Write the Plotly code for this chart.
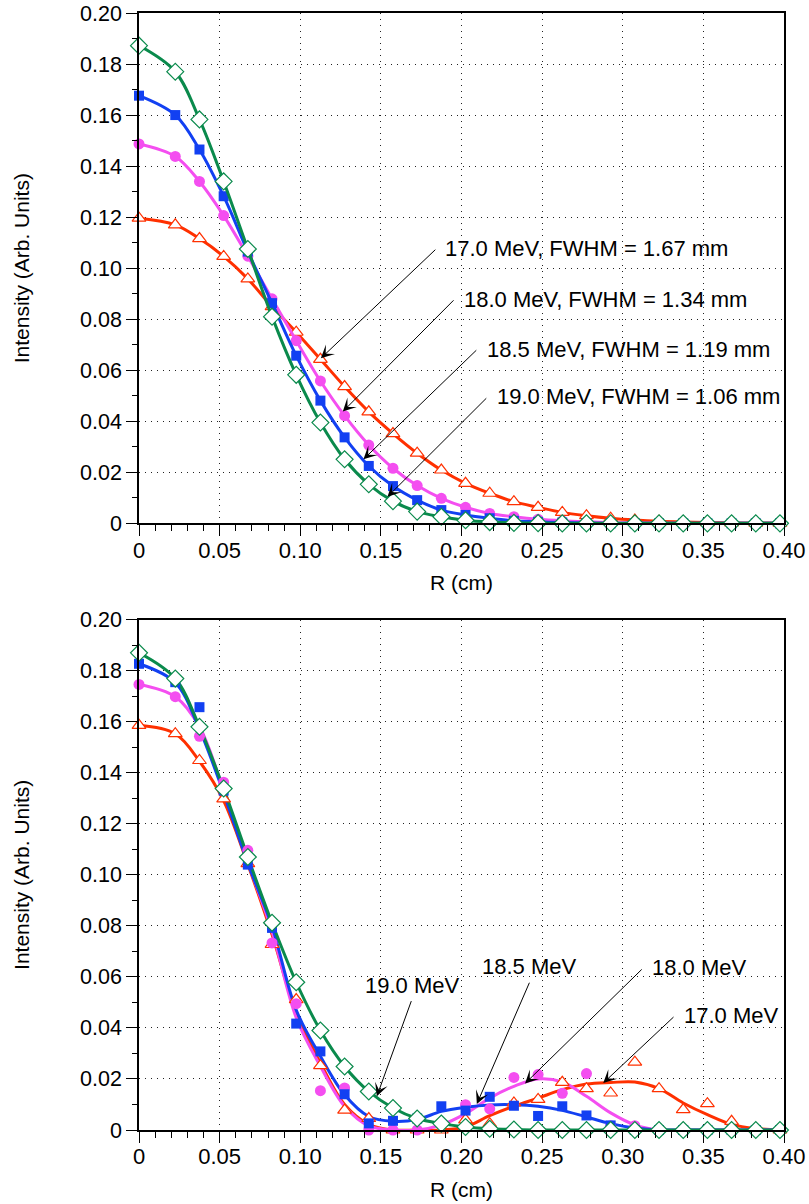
import plotly.graph_objects as go

# ---------------- data ----------------
R = [0, 0.0225, 0.0375, 0.0525, 0.0675, 0.0825, 0.0975, 0.1125, 0.1275, 0.1425,
     0.1575, 0.1725, 0.1875, 0.2025, 0.2175, 0.2325, 0.2475, 0.2625, 0.2775, 0.2925,
     0.3075, 0.3225, 0.3375, 0.3525, 0.3675, 0.3825, 0.3975]

# top panel (points lie on the curves)
top_170 = [0.1196, 0.1170, 0.1116, 0.1046, 0.0958, 0.0849, 0.0749, 0.0643, 0.0536, 0.0437,
           0.0352, 0.0275, 0.0209, 0.0157, 0.0118, 0.0085, 0.0063, 0.0043, 0.0030, 0.0020,
           0.0013, 0.0008, 0.0005, 0.0003, 0.0002, 0.0001, 0.0001]
top_180 = [0.1487, 0.1438, 0.1340, 0.1206, 0.1047, 0.0880, 0.0716, 0.0558, 0.0422, 0.0307,
           0.0216, 0.0148, 0.0098, 0.0063, 0.0039, 0.0026, 0.0016, 0.0010, 0.0006, 0.0003,
           0.0002, 0.0001, 0.0, 0.0, 0.0, 0.0, 0.0]
top_185 = [0.1676, 0.1600, 0.1465, 0.1282, 0.1065, 0.0863, 0.0657, 0.0481, 0.0337, 0.0225,
           0.0146, 0.0091, 0.0052, 0.0033, 0.0020, 0.0010, 0.0006, 0.0003, 0.0001, 0.0,
           0.0, 0.0, 0.0, 0.0, 0.0, 0.0, 0.0]
top_190 = [0.1872, 0.1770, 0.1583, 0.1340, 0.1075, 0.0810, 0.0582, 0.0395, 0.0251, 0.0153,
           0.0087, 0.0046, 0.0026, 0.0012, 0.0005, 0.0002, 0.0001, 0.0, 0.0, 0.0,
           0.0, 0.0, 0.0, 0.0, 0.0, 0.0, 0.0]

# bottom panel: measured points
pts_170 = [0.1586, 0.1553, 0.1448, 0.1298, 0.1044, 0.0727, 0.0511, 0.0252, 0.0078, 0.0045,
           0.0, 0.0, 0.0, 0.0040, 0.0025, 0.0106, 0.0120, 0.0187, 0.0162, 0.0145,
           0.0266, 0.0162, 0.0080, 0.0103, 0.0034, 0.0005, 0.0]
pts_180 = [0.1746, 0.1698, 0.1543, 0.1363, 0.1096, 0.0733, 0.0495, 0.0154, 0.0165, 0.0,
           0.0, 0.0, 0.0025, 0.0099, 0.0083, 0.0206, 0.0217, 0.0144, 0.0221, 0.0017,
           0.0017, 0.0, 0.0, 0.0, 0.0, 0.0, 0.0]
pts_185 = [0.1827, 0.1755, 0.1657, 0.1330, 0.1040, 0.0792, 0.0417, 0.0308, 0.0140, 0.0026,
           0.0036, 0.0045, 0.0093, 0.0076, 0.0130, 0.0095, 0.0055, 0.0093, 0.0057, 0.0018,
           0.0, 0.0, 0.0, 0.0, 0.0, 0.0, 0.0]
pts_190 = [0.1870, 0.1769, 0.1580, 0.1338, 0.1070, 0.0812, 0.0579, 0.0390, 0.0249, 0.0151,
           0.0086, 0.0045, 0.0025, 0.0012, 0.0005, 0.0002, 0.0, 0.0, 0.0, 0.0,
           0.0, 0.0, 0.0, 0.0, 0.0, 0.0, 0.0]

# bottom panel: fitted curves
fit_170 = [0.1586, 0.1553, 0.1445, 0.1290, 0.1040, 0.0766, 0.0459, 0.0263, 0.0100, 0.0022,
           0.0, 0.0, 0.0, 0.0012, 0.0056, 0.0093, 0.0125, 0.0158, 0.0180, 0.0186,
           0.0188, 0.0162, 0.0106, 0.0060, 0.0022, 0.0006, 0.0001]
fit_180 = [0.1746, 0.1698, 0.1580, 0.1330, 0.1050, 0.0779, 0.0440, 0.0250, 0.0093, 0.0016,
           0.0, 0.0, 0.0020, 0.0064, 0.0125, 0.0171, 0.0200, 0.0188, 0.0132, 0.0067,
           0.0020, 0.0, 0.0, 0.0, 0.0, 0.0, 0.0]
fit_185 = [0.1827, 0.1753, 0.1570, 0.1320, 0.1045, 0.0798, 0.0470, 0.0289, 0.0138, 0.0053,
           0.0034, 0.0041, 0.0073, 0.0089, 0.0098, 0.0099, 0.0093, 0.0077, 0.0051, 0.0025,
           0.0008, 0.0001, 0.0, 0.0, 0.0, 0.0, 0.0]
fit_190 = [0.1870, 0.1769, 0.1580, 0.1338, 0.1070, 0.0812, 0.0579, 0.0390, 0.0249, 0.0151,
           0.0086, 0.0045, 0.0025, 0.0012, 0.0005, 0.0002, 0.0, 0.0, 0.0, 0.0,
           0.0, 0.0, 0.0, 0.0, 0.0, 0.0, 0.0]

x_tickvals = [0, 0.05, 0.10, 0.15, 0.20, 0.25, 0.30, 0.35, 0.40]
x_ticktext = ["0", "0.05", "0.10", "0.15", "0.20", "0.25", "0.30", "0.35", "0.40"]
y_tickvals = [0, 0.02, 0.04, 0.06, 0.08, 0.10, 0.12, 0.14, 0.16, 0.18, 0.20]
y_ticktext = ["0", "0.02", "0.04", "0.06", "0.08", "0.10", "0.12", "0.14", "0.16", "0.18", "0.20"]

top_labels = ["17.0 MeV, FWHM = 1.67 mm", "18.0 MeV, FWHM = 1.34 mm",
              "18.5 MeV, FWHM = 1.19 mm", "19.0 MeV, FWHM = 1.06 mm"]
bottom_labels = ["19.0 MeV", "18.5 MeV", "18.0 MeV", "17.0 MeV"]

# ---------------- styles ----------------
RED = "#FF3000"
MAG = "#F44EF0"
BLUE = "#1240F2"
GREEN = "#0A8A4C"
FONT = "Liberation Sans, Arial, Helvetica, sans-serif"

series = [
    (RED, dict(symbol="triangle-up", size=12, color="white", line=dict(color=RED, width=1.2))),
    (MAG, dict(symbol="circle", size=11, color=MAG, line=dict(width=0))),
    (BLUE, dict(symbol="square", size=10, color=BLUE, line=dict(width=0))),
    (GREEN, dict(symbol="diamond", size=13, color="white", line=dict(color=GREEN, width=1.2))),
]

fig = go.Figure()

# top panel
for (col, mk), ys in zip(series, [top_170, top_180, top_185, top_190]):
    fig.add_trace(go.Scatter(x=R, y=ys, mode="lines+markers", xaxis="x", yaxis="y",
                             line=dict(color=col, width=3, shape="spline", smoothing=1.0),
                             marker=mk, cliponaxis=False, showlegend=False))

# bottom panel: curves then points
for (col, mk), ys in zip(series, [fit_170, fit_180, fit_185, fit_190]):
    fig.add_trace(go.Scatter(x=R, y=ys, mode="lines", xaxis="x2", yaxis="y2",
                             line=dict(color=col, width=3, shape="spline", smoothing=1.0),
                             showlegend=False))
for (col, mk), ys in zip(series, [pts_170, pts_180, pts_185, pts_190]):
    fig.add_trace(go.Scatter(x=R, y=ys, mode="markers", xaxis="x2", yaxis="y2",
                             marker=mk, cliponaxis=False, showlegend=False))

GRID = dict(showgrid=True, gridcolor="#222222", gridwidth=1, griddash="1px,5px")

xax = dict(range=[0, 0.40], tickvals=x_tickvals, ticktext=x_ticktext,
           showline=True, linecolor="black", linewidth=1.5, mirror=True,
           ticks="outside", ticklen=11, tickwidth=1.3, tickcolor="black",
           minor=dict(dtick=0.01, tick0=0, ticks="outside", ticklen=6, tickwidth=1.2,
                      tickcolor="black", showgrid=False),
           zeroline=False, tickfont=dict(size=22, family=FONT, color="black"),
           ticklabelstandoff=-5, automargin=False,
           title=dict(text="R (cm)", font=dict(size=21, family=FONT, color="black"), standoff=14),
           **GRID)
yax = dict(range=[0, 0.20], tickvals=y_tickvals, ticktext=y_ticktext,
           showline=True, linecolor="black", linewidth=1.5, mirror=True,
           ticks="outside", ticklen=11, tickwidth=1.3, tickcolor="black",
           minor=dict(dtick=0.01, tick0=0, ticks="outside", ticklen=5, tickwidth=1.2,
                      tickcolor="black", showgrid=False),
           zeroline=False, tickfont=dict(size=21.5, family=FONT, color="black"),
           automargin=False,
           title=dict(text="Intensity (Arb. Units)", font=dict(size=21, family=FONT, color="black"),
                      standoff=45),
           **GRID)

fig.update_layout(
    width=809, height=1204,
    margin=dict(l=139, r=25, t=13, b=74, autoexpand=False),
    paper_bgcolor="white", plot_bgcolor="white",
    xaxis=dict(xax, anchor="y", domain=[0, 1]),
    yaxis=dict(yax, anchor="x", domain=[0.5431, 1]),
    xaxis2=dict(xax, anchor="y2", domain=[0, 1]),
    yaxis2=dict(yax, anchor="x2", domain=[0, 0.4569]),
)

annots = []
afont = dict(size=22, family=FONT, color="black")
# top arrows: (tip x, tip y, tail x, tail y, text x, text y)
top_geo = [(0.1128, 0.0647, 0.1847, 0.1078, 0.1888, 0.1078),
           (0.1264, 0.0438, 0.1960, 0.0880, 0.2002, 0.0878),
           (0.1392, 0.0251, 0.2101, 0.0684, 0.2146, 0.0682),
           (0.1541, 0.0104, 0.2163, 0.0496, 0.2208, 0.0496)]
for lab, (tx, ty, ax_, ay_, lx, ly) in zip(top_labels, top_geo):
    annots.append(dict(x=tx, y=ty, ax=ax_, ay=ay_, xref="x", yref="y", axref="x", ayref="y",
                       text="", showarrow=True, arrowhead=3, arrowsize=2.2, arrowwidth=1,
                       arrowcolor="black"))
    annots.append(dict(x=lx, y=ly, xref="x", yref="y", text=lab, showarrow=False,
                       xanchor="left", yanchor="middle", font=afont))

bot_geo = [(0.1475, 0.0132, 0.1692, 0.0511, 0.1691, 0.0567, "center"),
           (0.2095, 0.0102, 0.2425, 0.0583, 0.2420, 0.0639, "center"),
           (0.2394, 0.0182, 0.3127, 0.0635, 0.3169, 0.0635, "left"),
           (0.2879, 0.0184, 0.3324, 0.0448, 0.3369, 0.0448, "left")]
for lab, (tx, ty, ax_, ay_, lx, ly, anc) in zip(bottom_labels, bot_geo):
    annots.append(dict(x=tx, y=ty, ax=ax_, ay=ay_, xref="x2", yref="y2", axref="x2", ayref="y2",
                       text="", showarrow=True, arrowhead=3, arrowsize=2.2, arrowwidth=1,
                       arrowcolor="black"))
    annots.append(dict(x=lx, y=ly, xref="x2", yref="y2", text=lab, showarrow=False,
                       xanchor=anc, yanchor="middle", font=afont))
fig.update_layout(annotations=annots)

fig.write_html("out.html")
